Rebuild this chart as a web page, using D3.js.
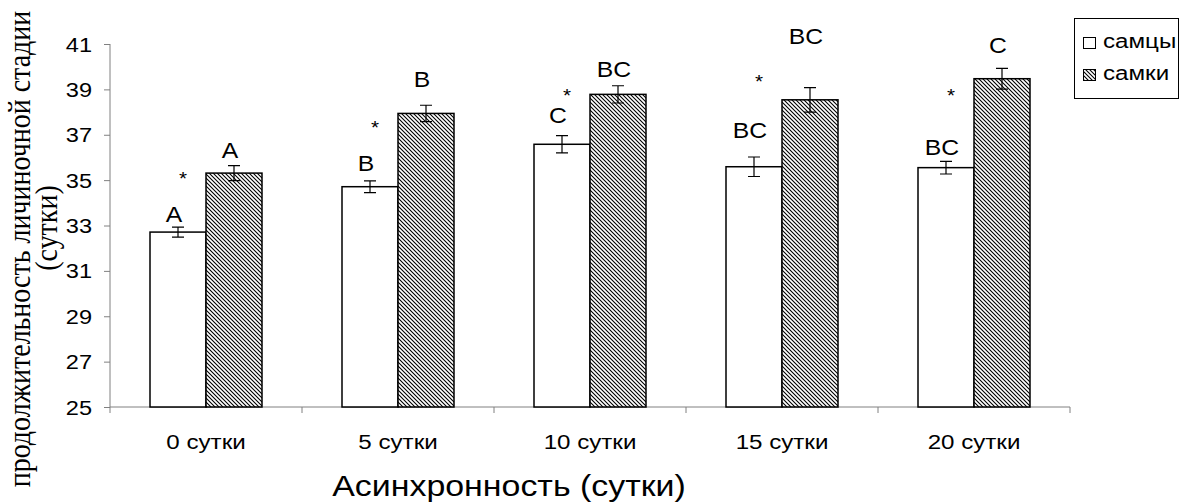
<!DOCTYPE html>
<html><head><meta charset="utf-8">
<script src="https://cdn.jsdelivr.net/npm/d3@7"></script>
<style>
html,body{margin:0;padding:0;background:#fff;}
svg{display:block;}
</style>
</head><body>
<svg id="chart" width="1184" height="504"></svg>
<script>
const categories = ["0 сутки", "5 сутки", "10 сутки", "15 сутки", "20 сутки"];
const seriesNames = ["самцы", "самки"];
const males = [32.71, 34.71, 36.58, 35.59, 35.55];
const females = [35.31, 37.94, 38.78, 38.54, 39.47];
const maleErr = [0.22, 0.26, 0.38, 0.43, 0.28];
const femaleErr = [0.33, 0.36, 0.38, 0.54, 0.46];
const maleLetters = ["A", "B", "C", "BC", "BC"];
const femaleLetters = ["A", "B", "BC", "BC", "C"];
const maleLetterLevel = [33.17, 35.40, 37.53, 36.86, 36.11];
const femaleLetterLevel = [35.97, 39.10, 39.54, 41.0, 40.61];
const starLevel = [35.22, 37.47, 38.88, 39.5, 38.88];
const yTicks = [25, 27, 29, 31, 33, 35, 37, 39, 41];
const xTitle = "Асинхронность (сутки)";
const yTitle = ["продолжительность личиночной стадии", "(сутки)"];

const SX = 1.15; // horizontal stretch of text in the reference
const svg = d3.select("#chart");

const defs = svg.append("defs");
const pat = defs.append("pattern").attr("id", "hatch").attr("patternUnits", "userSpaceOnUse")
  .attr("width", 4).attr("height", 4);
pat.append("rect").attr("width", 4).attr("height", 4).attr("fill", "#fff");
pat.append("path").attr("d", "M-1,-1L5,5M3,-1L5,1M-1,3L1,5")
  .attr("stroke", "#000").attr("stroke-width", 1.1);

const y = d3.scaleLinear().domain([25, 41]).range([407, 44]);
const x = d3.scaleBand().domain(categories).range([110, 1070]).padding(0);
const xs = d3.scaleBand().domain([0, 1]).range([40, 152]).padding(0);

function stext(g, str, tx, ty, size, anchor, family) {
  return g.append("text")
    .attr("transform", `translate(${tx},${ty}) scale(${SX},1)`)
    .attr("text-anchor", anchor || "middle")
    .attr("font-family", family || "Liberation Sans, Arial, sans-serif")
    .attr("font-size", size)
    .attr("fill", "#000")
    .text(str);
}

// axes
const axisColor = "#808080";
const yAxis = svg.append("g").attr("transform", "translate(110,0)")
  .call(d3.axisLeft(y).tickValues(yTicks).tickSize(6).tickFormat(""));
yAxis.select(".domain").attr("stroke", axisColor).attr("d", `M0,${y(41)}V${y(25)}`);
yAxis.selectAll(".tick line").attr("stroke", axisColor);
yTicks.forEach(t => stext(svg, String(t), 92, y(t) + 7.5, 20.5, "end"));

const xAxis = svg.append("g").attr("transform", `translate(0,${y(25)})`);
xAxis.append("line").attr("x1", 110).attr("x2", 1070).attr("stroke", axisColor);
const bounds = categories.map(c => x(c)).concat([x.range()[1]]);
xAxis.selectAll("line.tk").data(bounds).join("line").attr("class", "tk")
  .attr("x1", d => d).attr("x2", d => d).attr("y1", 0).attr("y2", 6).attr("stroke", axisColor);
categories.forEach(c => stext(svg, c, x(c) + x.bandwidth() / 2, 449, 21));

// bars
const series = [
  {vals: males, err: maleErr, fill: "#fff", letters: maleLetters, lvl: maleLetterLevel},
  {vals: females, err: femaleErr, fill: "url(#hatch)", letters: femaleLetters, lvl: femaleLetterLevel}
];
series.forEach((s, si) => {
  const g = svg.append("g");
  g.selectAll("rect").data(categories).join("rect")
    .attr("x", c => x(c) + xs(si))
    .attr("y", (c, i) => y(s.vals[i]))
    .attr("width", xs.bandwidth())
    .attr("height", (c, i) => y(25) - y(s.vals[i]))
    .attr("fill", s.fill).attr("stroke", "#000").attr("stroke-width", 1.5);
  categories.forEach((c, i) => {
    const cx = x(c) + xs(si) + xs.bandwidth() / 2;
    const y1 = y(s.vals[i] + s.err[i]), y2 = y(s.vals[i] - s.err[i]);
    g.append("path").attr("d", `M${cx},${y1}V${y2}M${cx - 6},${y1}H${cx + 6}M${cx - 6},${y2}H${cx + 6}`)
      .attr("stroke", "#000").attr("stroke-width", 1.2).attr("fill", "none");
    stext(svg, s.letters[i], cx - 4, y(s.lvl[i]), 21.5);
  });
});

// significance stars
categories.forEach((c, i) => {
  const cx = x(c) + xs(0) + xs.bandwidth() / 2 + 5;
  stext(svg, "*", cx, y(starLevel[i]) + 10, 18);
});

// titles
stext(svg, xTitle, 509, 496, 29.5);
const yl = svg.append("g");
[[30, 249], [57, 228]].forEach((p, k) => {
  yl.append("text")
    .attr("transform", `translate(${p[0]},${p[1]}) scale(${SX},1) rotate(-90)`)
    .attr("text-anchor", "middle")
    .attr("font-family", "Liberation Serif, Times New Roman, serif")
    .attr("font-size", 28)
    .attr("fill", "#000")
    .text(yTitle[k]);
});

// legend
const lg = svg.append("g");
lg.append("rect").attr("x", 1074.5).attr("y", 18.5).attr("width", 104).attr("height", 80)
  .attr("fill", "#fff").attr("stroke", "#000").attr("stroke-width", 1);
seriesNames.forEach((n, k) => {
  const top = 37 + k * 32;
  lg.append("rect").attr("x", 1083.5).attr("y", top + 0.5).attr("width", 12).attr("height", 11)
    .attr("fill", series[k].fill).attr("stroke", "#000").attr("stroke-width", 1);
  stext(lg, n, 1103, top + 11, 21, "start");
});
</script>
</body></html>
